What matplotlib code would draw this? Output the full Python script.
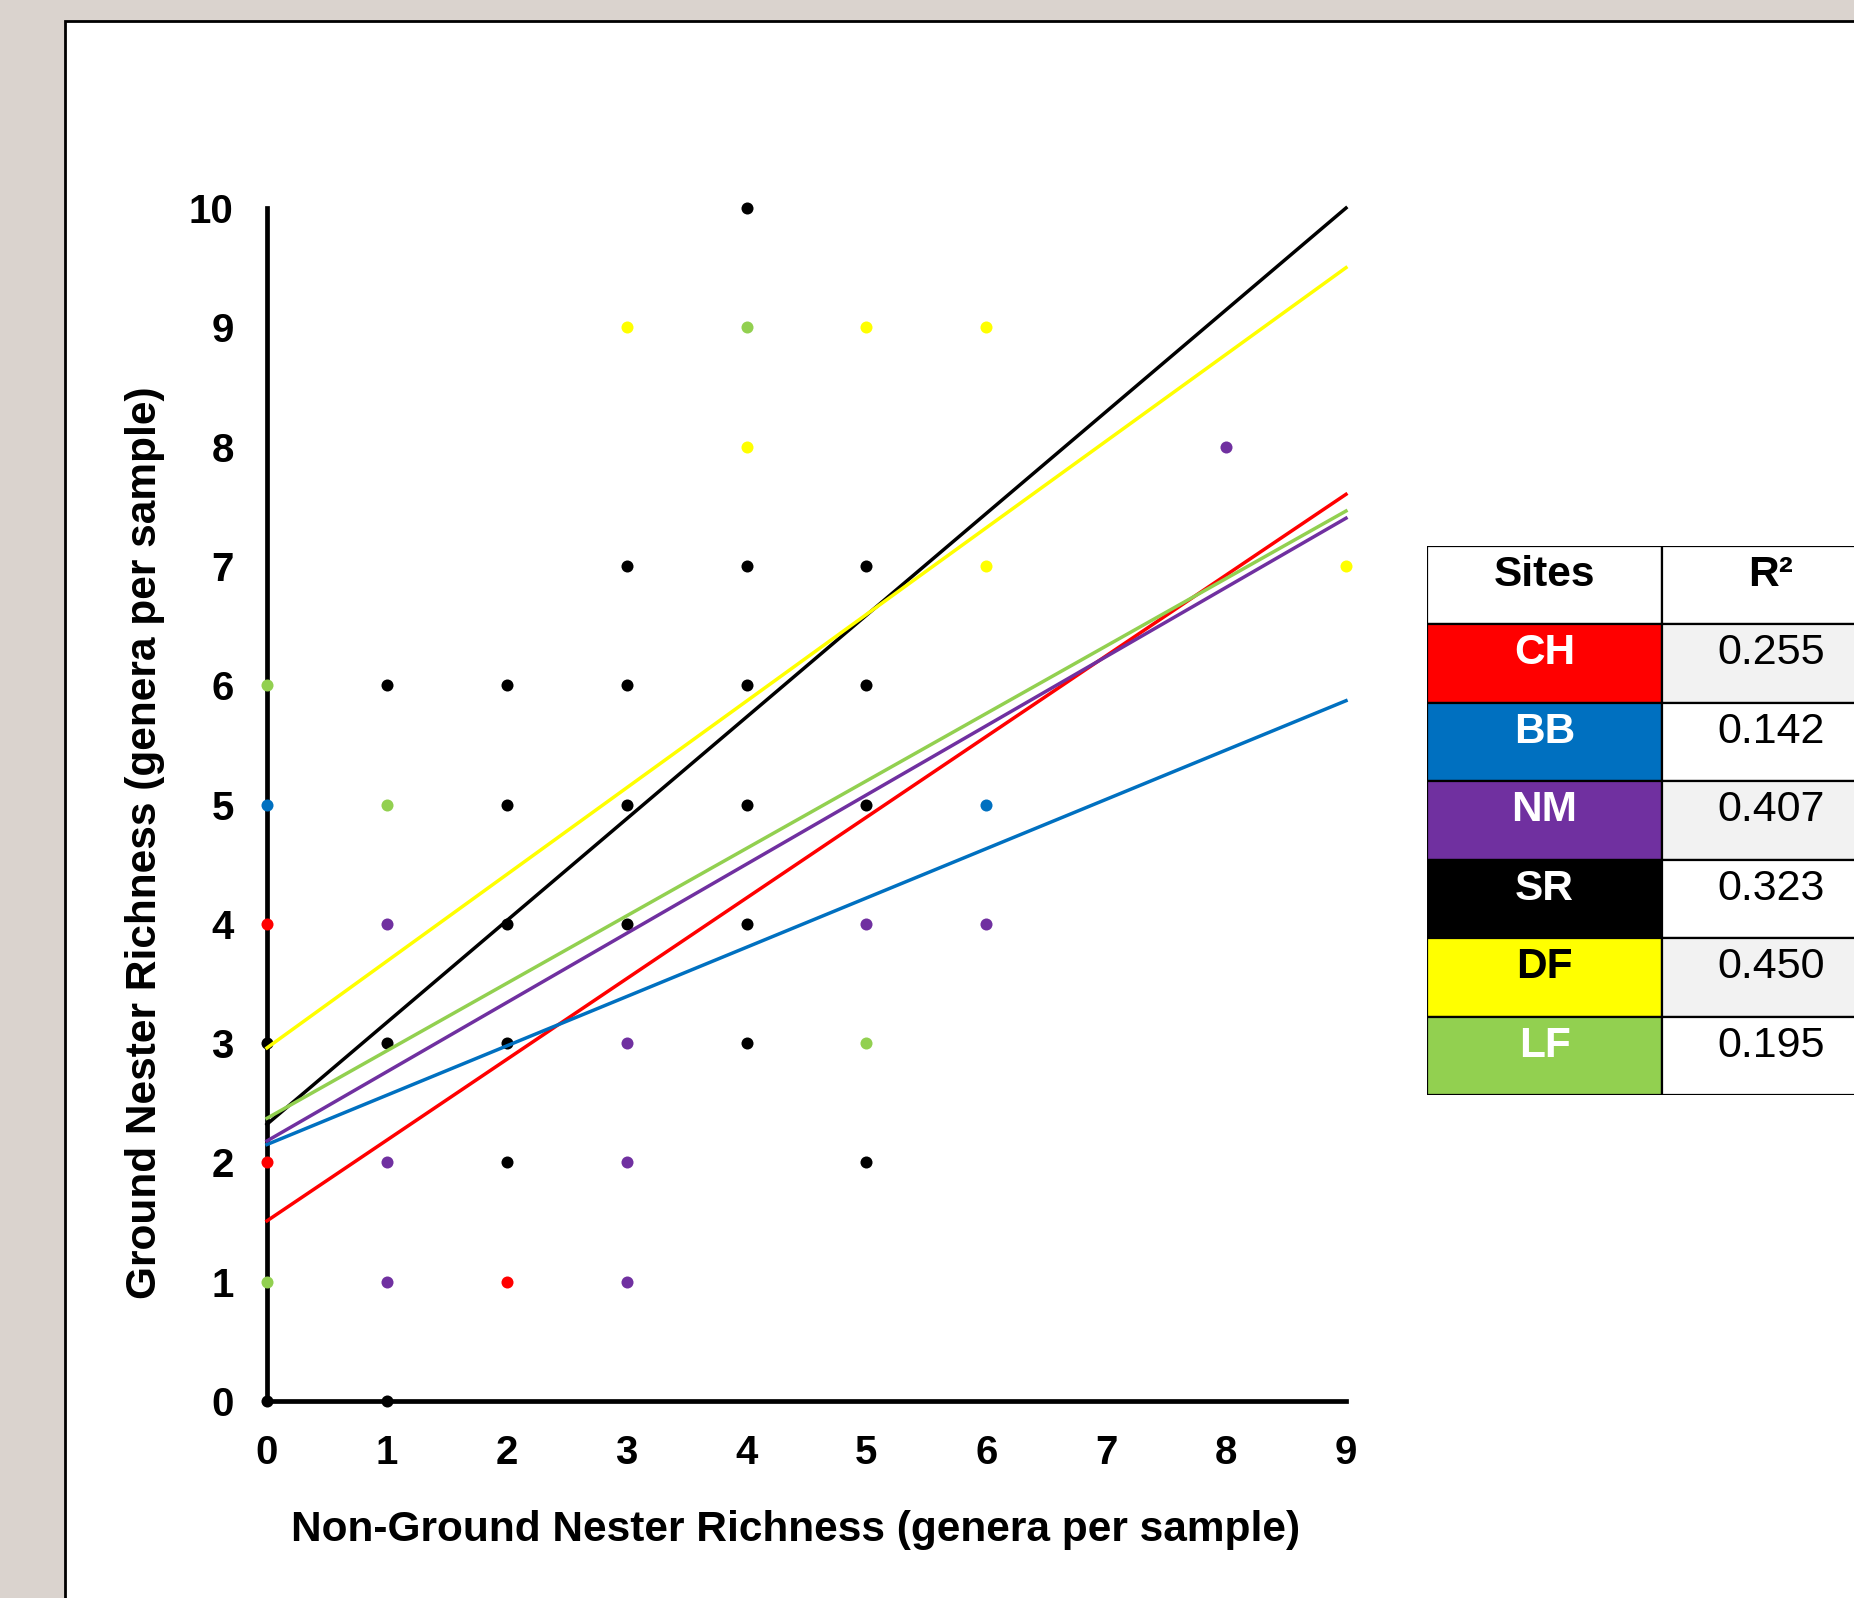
import numpy as np
import matplotlib
matplotlib.use("Agg")
import matplotlib.pyplot as plt
from matplotlib.patches import Rectangle

plt.rcParams['font.family'] = ['Liberation Sans', 'DejaVu Sans']

# site order / colours / R2 values (table)
sites = ["CH", "BB", "NM", "SR", "DF", "LF"]
colors = ["#ff0000", "#0070c0", "#7030a0", "#000000", "#ffff00", "#92d050"]
r2 = ["0.255", "0.142", "0.407", "0.323", "0.450", "0.195"]
name_colors = ["white", "white", "white", "white", "black", "white"]

# points per site (non-ground nester richness, ground nester richness)
ch_x = [0, 0, 2]
ch_y = [4, 2, 1]
bb_x = [0, 6]
bb_y = [5, 5]
nm_x = [8, 1, 5, 6, 3, 1, 3, 1, 3]
nm_y = [8, 4, 4, 4, 3, 2, 2, 1, 1]
sr_x = [4, 3, 4, 5, 1, 2, 3, 4, 5, 2, 3, 4, 5, 2, 3, 4, 0, 1, 2, 4, 2, 5, 0, 1]
sr_y = [10, 7, 7, 7, 6, 6, 6, 6, 6, 5, 5, 5, 5, 4, 4, 4, 3, 3, 3, 3, 2, 2, 0, 0]
df_x = [3, 5, 6, 4, 6, 9]
df_y = [9, 9, 9, 8, 7, 7]
lf_x = [4, 0, 1, 5, 0]
lf_y = [9, 6, 5, 3, 1]

xs = [ch_x, bb_x, nm_x, sr_x, df_x, lf_x]
ys = [ch_y, bb_y, nm_y, sr_y, df_y, lf_y]

# trend lines: value at x=0 and at x=9
line_start = [1.51, 2.15, 2.18, 2.32, 2.96, 2.37]
line_end = [7.60, 5.87, 7.40, 10.0, 9.50, 7.46]

x_ticks = list(range(0, 10))
y_ticks = list(range(0, 11))

W, H = 1854, 1598
fig = plt.figure(figsize=(W / 100, H / 100), dpi=100)
fig.patch.set_facecolor("#dad3ce")

# white panel with black frame
fig.add_artist(Rectangle((65 / W, -0.05), 1.2, 1 - 21 / H + 0.05,
                         transform=fig.transFigure, facecolor="white",
                         edgecolor="black", lw=2, zorder=-1))

ax = fig.add_axes([267 / W, 1 - 1401 / H, (1346 - 267) / W, (1401 - 208) / H])
ax.set_facecolor("none")

for x, y, c in zip(xs, ys, colors):
    ax.scatter(x, y, s=75, color=c, zorder=3, clip_on=False, linewidths=0)

for a, b, c in zip(line_start, line_end, colors):
    ax.plot([0, 9], [a, b], color=c, lw=2.5, zorder=4, clip_on=False)

ax.set_xlim(0, 9)
ax.set_ylim(0, 10)
ax.set_xticks(x_ticks)
ax.set_yticks(y_ticks)
ax.tick_params(length=0, labelsize=29, pad=24)
for lab in ax.get_xticklabels() + ax.get_yticklabels():
    lab.set_fontweight("bold")
for s in ["top", "right"]:
    ax.spines[s].set_visible(False)
for s in ["left", "bottom"]:
    ax.spines[s].set_linewidth(3.4)
    ax.spines[s].set_zorder(2.5)

ax.set_xlabel("Non-Ground Nester Richness (genera per sample)",
              fontsize=30.5, fontweight="bold")
ax.set_ylabel("Ground Nester Richness (genera per sample)",
              fontsize=30.5, fontweight="bold")
ax.xaxis.set_label_coords(0.49, -0.108)
ax.xaxis.label.set_va("center")
ax.yaxis.set_label_coords(-0.113, 0.468)
ax.yaxis.label.set_va("center")

# R2 table (pixel widths of the two columns)
col_w = [235, 218]
tax = fig.add_axes([1427 / W, 1 - 1095 / H, sum(col_w) / W, (1095 - 546) / H])
tax.set_xlim(0, sum(col_w))
tax.set_ylim(7, 0)
tax.axis("off")

x0, x1 = 0, col_w[0]
tax.add_patch(Rectangle((x0, 0), col_w[0], 1, facecolor="white", edgecolor="black", lw=1.6))
tax.add_patch(Rectangle((x1, 0), col_w[1], 1, facecolor="white", edgecolor="black", lw=1.6))
tax.text(x0 + col_w[0] / 2, 0.37, "Sites", ha="center", va="center",
         fontsize=30.5, fontweight="bold")
tax.text(x1 + col_w[1] / 2, 0.37, "R²", ha="center", va="center",
         fontsize=30.5, fontweight="bold")

for i, (name, c, v, nc) in enumerate(zip(sites, colors, r2, name_colors)):
    row = i + 1
    tax.add_patch(Rectangle((x0, row), col_w[0], 1, facecolor=c, edgecolor="black", lw=1.6))
    bg = "#f2f2f2" if i % 2 == 0 else "white"
    tax.add_patch(Rectangle((x1, row), col_w[1], 1, facecolor=bg, edgecolor="black", lw=1.6))
    tax.text(x0 + col_w[0] / 2, row + 0.37, name, ha="center", va="center",
             fontsize=30.5, fontweight="bold", color=nc)
    tax.text(x1 + col_w[1] / 2, row + 0.37, v, ha="center", va="center",
             fontsize=31, color="black")

fig.savefig("out.png", dpi=100, facecolor=fig.get_facecolor())
